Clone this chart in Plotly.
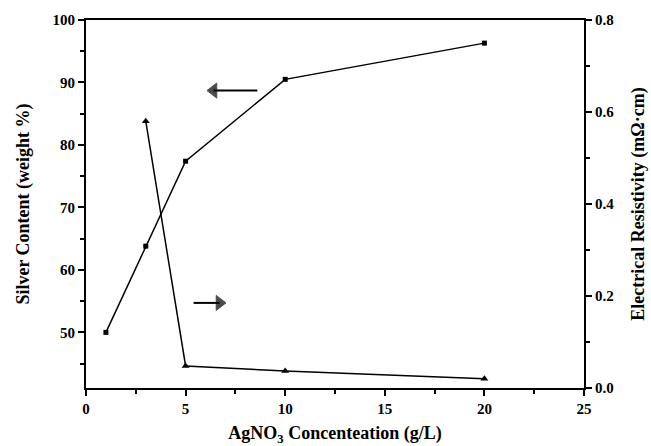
import plotly.graph_objects as go

conc_silver = [1, 3, 5, 10, 20]
silver_content = [50.0, 63.8, 77.4, 90.5, 96.3]
conc_res = [3, 5, 10, 20]
resistivity = [0.58, 0.048, 0.037, 0.020]

# direction-indicator arrows (tail -> head)
arrow_left_x = [8.6, 6.4]
arrow_left_y = [88.7, 88.7]
arrow_right_x = [5.4, 6.7]
arrow_right_y = [0.185, 0.185]

FONT = "Liberation Serif"

fig = go.Figure()
fig.add_trace(go.Scatter(x=conc_silver, y=silver_content, mode="lines+markers",
                         line=dict(color="black", width=1.5),
                         marker=dict(symbol="square", size=5, color="black"),
                         showlegend=False))
fig.add_trace(go.Scatter(x=conc_res, y=resistivity, mode="lines+markers", yaxis="y2",
                         line=dict(color="black", width=1.5),
                         marker=dict(symbol="triangle-up", size=7, color="black"),
                         showlegend=False))
fig.add_trace(go.Scatter(x=arrow_left_x, y=arrow_left_y, mode="lines+markers",
                         line=dict(color="black", width=2),
                         marker=dict(symbol=["circle", "triangle-left"], size=[0, 13], color="black",
                                     line=dict(color="black", width=1)),
                         showlegend=False, hoverinfo="skip"))
fig.add_trace(go.Scatter(x=arrow_right_x, y=arrow_right_y, mode="lines+markers", yaxis="y2",
                         line=dict(color="black", width=2),
                         marker=dict(symbol=["circle", "triangle-right"], size=[0, 13], color="black",
                                     line=dict(color="black", width=1)),
                         showlegend=False, hoverinfo="skip"))

axis_common = dict(showgrid=False, zeroline=False, showline=True, linecolor="black",
                   linewidth=2, ticks="outside", ticklen=6, tickwidth=2, tickcolor="black",
                   automargin=False,
                   tickfont=dict(family=FONT, size=15, color="black", weight="bold"))
title_font = dict(family=FONT, size=18, color="black", weight="bold")
minor_common = dict(ticks="outside", ticklen=4, tickwidth=2, tickcolor="black")

fig.update_layout(
    width=651, height=446,
    margin=dict(l=86, r=67, t=20, b=58),
    plot_bgcolor="white", paper_bgcolor="white",
    xaxis=dict(range=[0, 25], tickvals=[0, 5, 10, 15, 20, 25], mirror=True,
               minor=dict(tickvals=[2.5, 7.5, 12.5, 17.5, 22.5], **minor_common),
               title=dict(text="AgNO<sub>3</sub> Concenteation (g/L)", standoff=18, font=title_font),
               **axis_common),
    yaxis=dict(range=[41.1, 100], tickvals=[50, 60, 70, 80, 90, 100],
               minor=dict(tickvals=[45, 55, 65, 75, 85, 95], **minor_common),
               title=dict(text="Silver Content (weight %)", standoff=18, font=title_font),
               **axis_common),
    yaxis2=dict(range=[0, 0.8], tickvals=[0, 0.2, 0.4, 0.6, 0.8], tickformat=".1f",
                overlaying="y", side="right", anchor="x",
                minor=dict(tickvals=[0.1, 0.3, 0.5, 0.7], **minor_common),
                title=dict(text="Electrical Resistivity (mΩ·cm)", standoff=18, font=title_font),
                **axis_common),
)

fig.write_html("out.html")
